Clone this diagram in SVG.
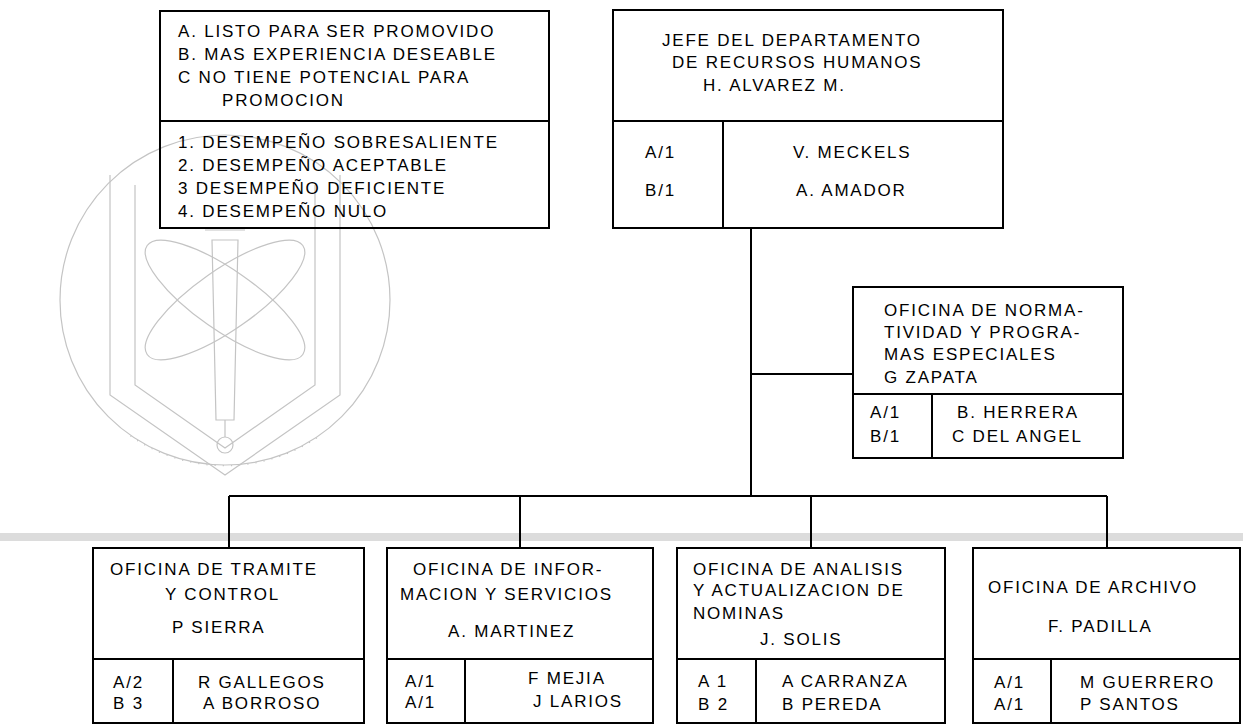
<svg xmlns="http://www.w3.org/2000/svg" width="1243" height="726" viewBox="0 0 1243 726">
<defs>
<style>
.t{font-family:"Liberation Sans",Arial,sans-serif;font-size:17px;letter-spacing:1.8px;fill:#000}
.box{fill:none;stroke:#000;stroke-width:2}
.wbox{fill:#fff;stroke:#000;stroke-width:2}
.ln{fill:none;stroke:#000;stroke-width:2}
.wm{fill:none;stroke:#c4c4c4;stroke-width:1.2}
</style>
</defs>
<rect width="1243" height="726" fill="#fff"/>

<g id="watermark">
  <rect x="0" y="533" width="1243" height="8" fill="#dcdcdc"/>
  <circle class="wm" cx="225" cy="300" r="165"/>
  <path class="wm" d="M 130.4 435.9 A 165 165 0 0 0 319.6 435.9" stroke-width="22" stroke-dasharray="1.2 7"/>
  <path class="wm" d="M 110 175 L 110 395 L 225 475 L 340 395 L 340 175"/>
  <path class="wm" d="M 135 185 L 135 385 L 225 448 L 315 385 L 315 185"/>
  <ellipse class="wm" cx="225" cy="300" rx="95" ry="30" transform="rotate(35 225 300)"/>
  <ellipse class="wm" cx="225" cy="300" rx="95" ry="30" transform="rotate(-35 225 300)"/>
  <path class="wm" d="M 212 240 L 238 240 L 234 420 L 216 420 Z M 205 230 L 245 230 M 225 420 L 225 437"/>
  <circle class="wm" cx="225" cy="445" r="8"/>
</g>

<g id="connectors">
  <path class="ln" d="M 751 228 L 751 496"/>
  <path class="ln" d="M 751 374 L 853 374"/>
  <path class="ln" d="M 229 496 L 1107 496"/>
  <path class="ln" d="M 229 496 L 229 548 M 520 496 L 520 548 M 811 496 L 811 548 M 1107 496 L 1107 548"/>
</g>

<g id="legend">
  <rect class="box" x="160" y="11" width="389" height="217"/>
  <line class="ln" x1="160" y1="121" x2="549" y2="121"/>
  <text class="t" x="178" y="37">A. LISTO PARA SER PROMOVIDO</text>
  <text class="t" x="178" y="60">B. MAS EXPERIENCIA DESEABLE</text>
  <text class="t" x="178" y="83">C NO TIENE POTENCIAL PARA</text>
  <text class="t" x="222" y="106">PROMOCION</text>
  <text class="t" x="178" y="148">1. DESEMPEÑO SOBRESALIENTE</text>
  <text class="t" x="178" y="171">2. DESEMPEÑO ACEPTABLE</text>
  <text class="t" x="178" y="194">3 DESEMPEÑO DEFICIENTE</text>
  <text class="t" x="178" y="217">4. DESEMPEÑO NULO</text>
</g>

<g id="jefe">
  <rect class="box" x="613" y="10" width="390" height="218"/>
  <line class="ln" x1="613" y1="121" x2="1003" y2="121"/>
  <line class="ln" x1="723" y1="121" x2="723" y2="228"/>
  <text class="t" x="662" y="46">JEFE DEL DEPARTAMENTO</text>
  <text class="t" x="672" y="68">DE RECURSOS HUMANOS</text>
  <text class="t" x="703" y="91">H. ALVAREZ M.</text>
  <text class="t" x="645" y="158">A/1</text>
  <text class="t" x="645" y="196">B/1</text>
  <text class="t" x="793" y="158">V. MECKELS</text>
  <text class="t" x="796" y="196">A. AMADOR</text>
</g>

<g id="normatividad">
  <rect class="wbox" x="853" y="287" width="270" height="171"/>
  <line class="ln" x1="853" y1="394" x2="1123" y2="394"/>
  <line class="ln" x1="932" y1="394" x2="932" y2="458"/>
  <text class="t" x="884" y="316">OFICINA DE NORMA-</text>
  <text class="t" x="884" y="338">TIVIDAD Y PROGRA-</text>
  <text class="t" x="884" y="360">MAS ESPECIALES</text>
  <text class="t" x="884" y="383">G ZAPATA</text>
  <text class="t" x="870" y="418">A/1</text>
  <text class="t" x="870" y="442">B/1</text>
  <text class="t" x="957" y="418">B. HERRERA</text>
  <text class="t" x="952" y="442">C DEL ANGEL</text>
</g>

<g id="tramite">
  <rect class="box" x="93" y="548" width="271" height="175"/>
  <line class="ln" x1="93" y1="659" x2="364" y2="659"/>
  <line class="ln" x1="173" y1="659" x2="173" y2="723"/>
  <text class="t" x="110" y="575">OFICINA DE TRAMITE</text>
  <text class="t" x="165" y="600">Y CONTROL</text>
  <text class="t" x="172" y="633">P SIERRA</text>
  <text class="t" x="113" y="688">A/2</text>
  <text class="t" x="113" y="709">B 3</text>
  <text class="t" x="198" y="688">R GALLEGOS</text>
  <text class="t" x="203" y="709">A BORROSO</text>
</g>

<g id="informacion">
  <rect class="box" x="387" y="548" width="266" height="175"/>
  <line class="ln" x1="387" y1="659" x2="653" y2="659"/>
  <line class="ln" x1="465" y1="659" x2="465" y2="723"/>
  <text class="t" x="413" y="575">OFICINA DE INFOR-</text>
  <text class="t" x="400" y="600">MACION Y SERVICIOS</text>
  <text class="t" x="448" y="637">A. MARTINEZ</text>
  <text class="t" x="405" y="687">A/1</text>
  <text class="t" x="405" y="708">A/1</text>
  <text class="t" x="528" y="684">F MEJIA</text>
  <text class="t" x="533" y="707">J LARIOS</text>
</g>

<g id="analisis">
  <rect class="box" x="677" y="548" width="268" height="175"/>
  <line class="ln" x1="677" y1="659" x2="945" y2="659"/>
  <line class="ln" x1="756" y1="659" x2="756" y2="723"/>
  <text class="t" x="693" y="575">OFICINA DE ANALISIS</text>
  <text class="t" x="693" y="596">Y ACTUALIZACION DE</text>
  <text class="t" x="693" y="619">NOMINAS</text>
  <text class="t" x="760" y="645">J. SOLIS</text>
  <text class="t" x="698" y="687">A 1</text>
  <text class="t" x="698" y="710">B 2</text>
  <text class="t" x="782" y="687">A CARRANZA</text>
  <text class="t" x="782" y="710">B PEREDA</text>
</g>

<g id="archivo">
  <rect class="box" x="973" y="548" width="267" height="175"/>
  <line class="ln" x1="973" y1="659" x2="1240" y2="659"/>
  <line class="ln" x1="1051" y1="659" x2="1051" y2="723"/>
  <text class="t" x="988" y="593">OFICINA DE ARCHIVO</text>
  <text class="t" x="1048" y="632">F. PADILLA</text>
  <text class="t" x="994" y="688">A/1</text>
  <text class="t" x="994" y="710">A/1</text>
  <text class="t" x="1080" y="688">M GUERRERO</text>
  <text class="t" x="1080" y="710">P SANTOS</text>
</g>
</svg>
